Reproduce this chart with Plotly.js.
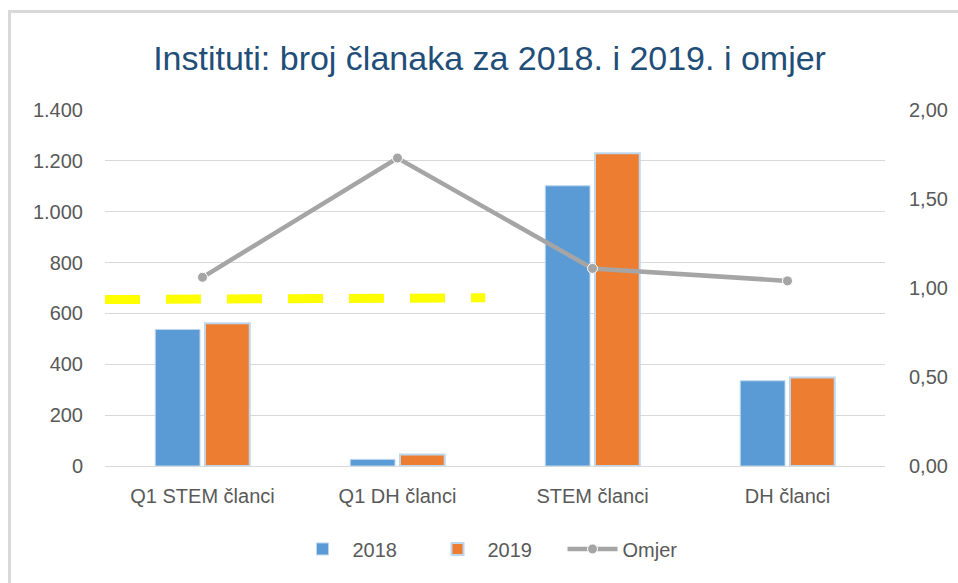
<!DOCTYPE html>
<html>
<head>
<meta charset="utf-8">
<script src="https://cdn.plot.ly/plotly-3.0.1.min.js"></script>
<style>
  html, body { margin: 0; padding: 0; background: #ffffff; }
  #frame { position: absolute; left: 8px; top: 10px; width: 960px; height: 580px;
           border-top: 3px solid #d9d9d9; border-left: 3px solid #d9d9d9; pointer-events: none; z-index: 5; }
  #chart { width: 958px; height: 583px; }
</style>
</head>
<body>
<div id="frame"></div>
<div id="chart"></div>
<script>
// ---- data ----
const categories = ['Q1 STEM članci', 'Q1 DH članci', 'STEM članci', 'DH članci'];
const values2018 = [537, 26, 1102, 335];
const values2019 = [561, 45, 1230, 348];
const omjer = [1.06, 1.73, 1.11, 1.04];
const seriesNames = ['2018', '2019', 'Omjer'];
const leftTicks = [0, 200, 400, 600, 800, 1000, 1200, 1400];
const rightTicks = [0, 0.5, 1, 1.5, 2];
const refLineX = [-0.5, 1.45];   // category-index positions of the yellow reference line
const refLineY = [0.935, 0.945]; // right-axis values of the yellow reference line

const font = 'Liberation Sans, Arial, sans-serif';
const tickColor = '#595959';

const traces = [
  {
    type: 'bar', name: seriesNames[0], x: categories, y: values2018,
    marker: { color: '#5B9BD5', line: { color: '#BDD7EE', width: 1 } },
    hoverinfo: 'skip'
  },
  {
    type: 'bar', name: seriesNames[1], x: categories, y: values2019,
    marker: { color: '#ED7D31', line: { color: '#BDD7EE', width: 2 } },
    hoverinfo: 'skip'
  },
  {
    type: 'scatter', mode: 'lines+markers', name: seriesNames[2], x: categories, y: omjer,
    yaxis: 'y2',
    line: { color: '#A5A5A5', width: 4.5 },
    marker: { color: '#A5A5A5', size: 10, line: { color: '#ffffff', width: 1 } },
    hoverinfo: 'skip'
  }
];

const layout = {
  width: 958, height: 583,
  paper_bgcolor: '#ffffff', plot_bgcolor: '#ffffff',
  separators: ',.',
  margin: { l: 105, r: 73, t: 110, b: 117 },
  font: { family: font, color: tickColor, size: 20 },
  title: {
    text: 'Instituti: broj članaka za 2018. i 2019. i omjer',
    font: { family: font, size: 34, color: '#1F4E79' },
    x: 0.511, xanchor: 'center', y: 0.9, yanchor: 'middle'
  },
  barmode: 'group', bargap: 0.49, bargroupgap: 0.1,
  showlegend: true,
  legend: {
    orientation: 'h', x: 0.5, xanchor: 'center', y: -0.233, yanchor: 'middle',
    font: { family: font, size: 20, color: tickColor }, itemwidth: 50,
    entrywidth: 70
  },
  xaxis: {
    type: 'category', showgrid: false, showline: true, linecolor: '#d9d9d9', linewidth: 1,
    ticks: '', tickfont: { family: font, size: 20, color: tickColor },
    ticklabelstandoff: 12, range: [-0.5, 3.5], fixedrange: true
  },
  yaxis: {
    range: [0, 1400], tickvals: leftTicks, tickformat: ',d',
    showgrid: true, gridcolor: '#d9d9d9', gridwidth: 1, zeroline: false,
    showline: false, ticks: '', tickfont: { family: font, size: 20, color: tickColor },
    ticklabelstandoff: 21, fixedrange: true
  },
  yaxis2: {
    overlaying: 'y', side: 'right', range: [0, 2], tickvals: rightTicks, tickformat: '.2f',
    showgrid: false, zeroline: false, showline: false,
    ticks: '', ticklabelstandoff: 23,
    tickfont: { family: font, size: 20, color: tickColor }, fixedrange: true
  },
  shapes: [
    {
      type: 'line', xref: 'x', yref: 'y2',
      x0: refLineX[0], x1: refLineX[1], y0: refLineY[0], y1: refLineY[1],
      line: { color: '#FFFF00', width: 9, dash: '35px,26px' }
    }
  ]
};

Plotly.newPlot('chart', traces, layout, { displayModeBar: false, staticPlot: true });
</script>
</body>
</html>
